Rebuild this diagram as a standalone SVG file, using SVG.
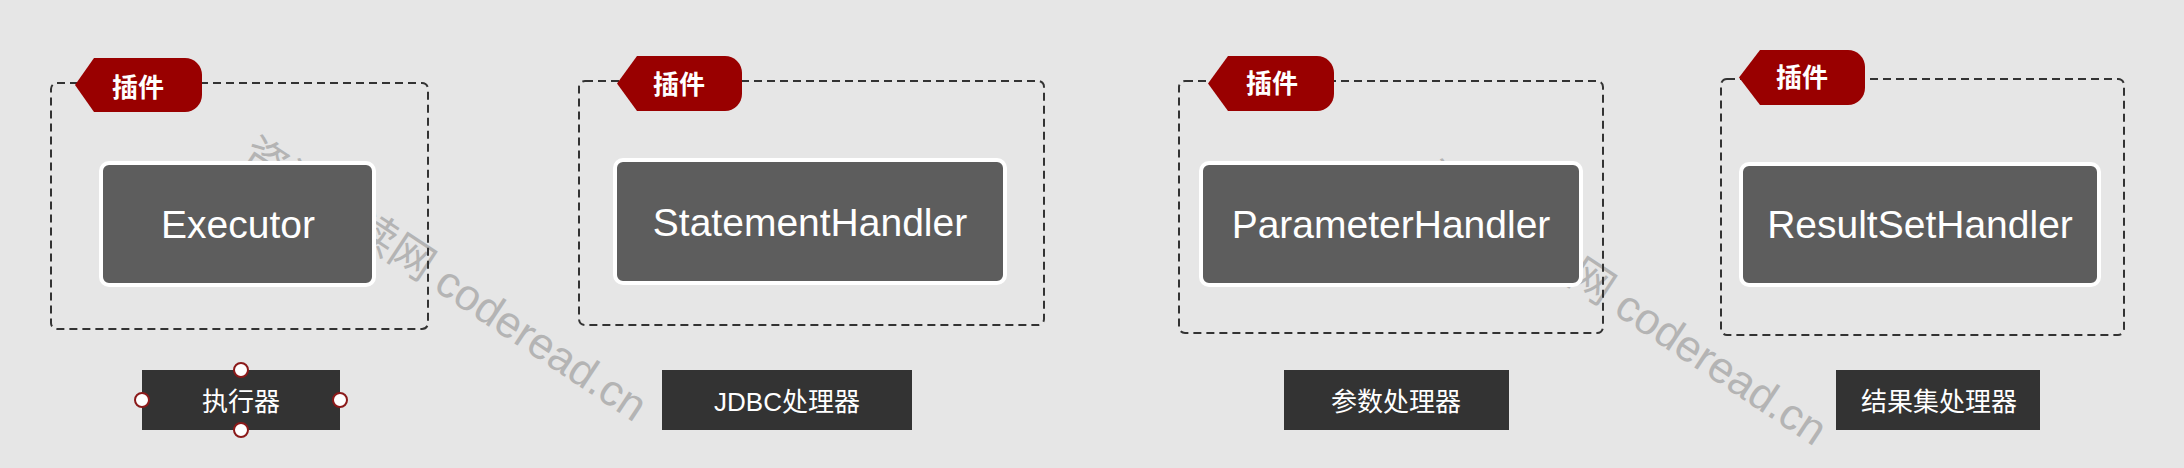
<svg xmlns="http://www.w3.org/2000/svg" width="2184" height="468" viewBox="0 0 2184 468">
<defs>
<style>
.bg{fill:#e6e6e6}
.wm{font-family:"Liberation Sans","Noto Sans CJK SC",sans-serif;font-size:44px;fill:#b4b4b4}
.frame{fill:none;stroke:#333333;stroke-width:2;stroke-dasharray:8 5}
.tag{fill:#990000}
.tagtxt{font-family:"Liberation Sans","Noto Sans CJK SC",sans-serif;font-size:26px;font-weight:bold;fill:#ffffff;text-anchor:middle}
.node{fill:#5d5d5d;stroke:#ffffff;stroke-width:4}
.nodetxt{font-family:"Liberation Sans","Noto Sans CJK SC",sans-serif;font-size:39px;fill:#ffffff;text-anchor:middle}
.lab{fill:#333333}
.labtxt{font-family:"Liberation Sans","Noto Sans CJK SC",sans-serif;font-size:26px;fill:#ffffff;text-anchor:middle}
.handle{fill:#ffffff;stroke:#8b1a1a;stroke-width:2}
</style>
</defs>
<rect class="bg" x="0" y="0" width="2184" height="468"/>
<g id="watermark">
<text class="wm" transform="translate(247,148) rotate(33.5)" dy="0.35em">资源阅读网 coderead.cn</text>
<text class="wm" transform="translate(1427,172) rotate(33.5)" dy="0.35em">资源阅读网 coderead.cn</text>
</g>
<g id="connectors"></g>
<g id="plugin-executor">
<rect class="frame" x="51" y="83" width="377" height="246" rx="6"/>
<path class="tag" d="M75,85 L94,58 H185 A17,17 0 0 1 202,75 V95 A17,17 0 0 1 185,112 H94 Z"/>
<text class="tagtxt" x="138" y="96.5">插件</text>
</g>
<g id="executor">
<rect class="node" x="101" y="163" width="273" height="122" rx="8"/>
<text class="nodetxt" x="238" y="238">Executor</text>
</g>
<g id="label-executor">
<rect class="lab" x="142" y="370" width="198" height="60"/>
<text class="labtxt" x="241" y="410.5">执行器</text>
<circle class="handle" cx="241" cy="370" r="7"/>
<circle class="handle" cx="142" cy="400" r="7"/>
<circle class="handle" cx="340" cy="400" r="7"/>
<circle class="handle" cx="241" cy="430" r="7"/>
</g>
<g id="plugin-statement">
<rect class="frame" x="579" y="81" width="465" height="244" rx="6"/>
<path class="tag" d="M617,83.5 L637,56 H725 A17,17 0 0 1 742,73 V94 A17,17 0 0 1 725,111 H637 Z"/>
<text class="tagtxt" x="679" y="93.5">插件</text>
</g>
<g id="statementhandler">
<rect class="node" x="615" y="160" width="390" height="123" rx="8"/>
<text class="nodetxt" x="810" y="236">StatementHandler</text>
</g>
<g id="label-statement">
<rect class="lab" x="662" y="370" width="250" height="60"/>
<text class="labtxt" x="787" y="410.5">JDBC处理器</text>
</g>
<g id="plugin-parameter">
<rect class="frame" x="1179" y="81" width="424" height="252" rx="6"/>
<path class="tag" d="M1208,83.5 L1228,56 H1317 A17,17 0 0 1 1334,73 V94 A17,17 0 0 1 1317,111 H1228 Z"/>
<text class="tagtxt" x="1272" y="93">插件</text>
</g>
<g id="parameterhandler">
<rect class="node" x="1201" y="163" width="380" height="122" rx="8"/>
<text class="nodetxt" x="1391" y="238">ParameterHandler</text>
</g>
<g id="label-parameter">
<rect class="lab" x="1284" y="370" width="225" height="60"/>
<text class="labtxt" x="1396" y="410.5">参数处理器</text>
</g>
<g id="plugin-resultset">
<rect class="frame" x="1721" y="79" width="403" height="256" rx="6"/>
<path class="tag" d="M1739,77.5 L1760,50 H1848 A17,17 0 0 1 1865,67 V88 A17,17 0 0 1 1848,105 H1760 Z"/>
<text class="tagtxt" x="1802" y="86.5">插件</text>
</g>
<g id="resultsethandler">
<rect class="node" x="1741" y="164" width="358" height="121" rx="8"/>
<text class="nodetxt" x="1920" y="238">ResultSetHandler</text>
</g>
<g id="label-resultset">
<rect class="lab" x="1836" y="370" width="204" height="60"/>
<text class="labtxt" x="1939" y="410.5">结果集处理器</text>
</g>
</svg>
